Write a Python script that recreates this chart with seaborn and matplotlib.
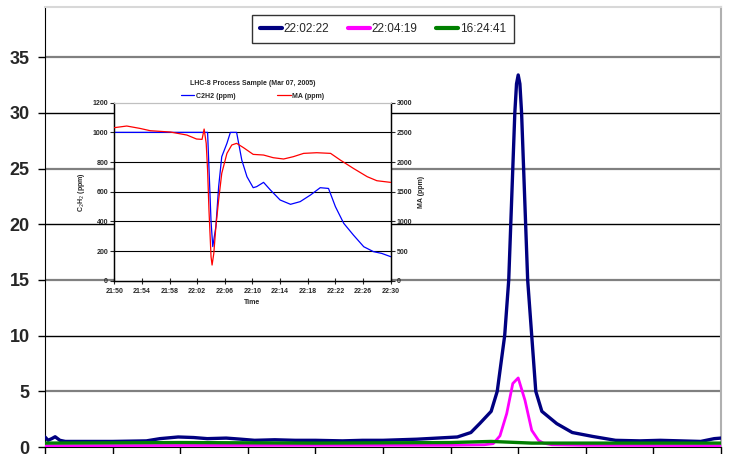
import matplotlib
matplotlib.use("Agg")
import matplotlib.pyplot as plt
import seaborn as sns

# main chart: three traces on an index axis 0..100 (ten ticks, no labels)
navy_x = [0, 0.45, 1.0, 1.5, 2.2, 3, 10, 15, 17, 19.7, 22, 24, 26.8, 29, 31, 34, 37, 40, 44,
          47, 50, 55, 58, 61, 63, 64.3, 66, 66.9, 68.0, 68.6, 68.9, 69.2, 69.5, 69.75, 70,
          70.25, 70.5, 70.8, 71.1, 71.4, 72, 72.6, 73.5, 75.7, 78, 81, 84.4, 88, 91, 94,
          97, 99, 100]
navy_y = [0.9, 0.6, 0.75, 0.92, 0.6, 0.5, 0.5, 0.55, 0.75, 0.9, 0.85, 0.75, 0.8, 0.7, 0.6,
          0.65, 0.6, 0.6, 0.55, 0.6, 0.6, 0.7, 0.8, 0.9, 1.3, 2.1, 3.2, 5.0, 10, 15, 20,
          25, 30, 32.6, 33.4, 32.6, 30, 25, 20, 15, 10, 5.0, 3.2, 2.1, 1.3, 0.95, 0.6, 0.55,
          0.6, 0.55, 0.5, 0.75, 0.8]

mag_x = [0, 40, 60, 65, 66.3, 67.3, 68.3, 69.2, 70, 71, 72, 73, 73.7, 75, 80, 100]
mag_y = [0.12, 0.15, 0.15, 0.2, 0.3, 1.0, 3.0, 5.7, 6.2, 4.2, 1.5, 0.6, 0.35, 0.2, 0.15, 0.12]

grn_x = [0, 20, 40, 60, 66, 68, 72, 100]
grn_y = [0.35, 0.4, 0.35, 0.4, 0.5, 0.45, 0.35, 0.35]

series_names = ["22:02:22", "22:04:19", "16:24:41"]
series_colors = ["#000080", "#FF00FF", "#008000"]

# inset: LHC-8 process sample, minutes after 21:50
c2h2_t = [0, 13.5, 13.75, 14.0, 14.25, 14.7, 15.1, 15.55, 16.3, 16.8, 17.7, 18.45, 19.2,
          20.1, 20.6, 21.6, 22.6, 24.0, 25.5, 26.9, 28.4, 29.8, 31.0, 32.0, 33.2, 34.6,
          36.1, 37.5, 38.7, 40]
c2h2 = [1000, 1000, 700, 400, 230, 364, 634, 836, 926, 1000, 1000, 813, 701, 627, 634,
        663, 611, 544, 515, 533, 578, 627, 622, 499, 387, 308, 229, 196, 184, 162]

ma_t = [0, 1.8, 3.7, 5.2, 8.1, 10.5, 11.9, 12.7, 13.0, 13.3, 13.5, 13.7, 14.0, 14.15,
        14.4, 14.7, 15.1, 15.55, 16.3, 17.0, 17.7, 18.7, 20.1, 21.6, 23.0, 24.5, 25.9,
        27.4, 29.3, 31.3, 32.7, 34.6, 36.6, 38.0, 40]
ma = [2579, 2607, 2567, 2528, 2506, 2455, 2388, 2382, 2556, 2315, 1865, 1191, 404, 264,
      461, 910, 1360, 1809, 2146, 2287, 2315, 2242, 2129, 2118, 2073, 2051, 2090, 2146,
      2157, 2146, 2034, 1893, 1753, 1685, 1657]

inset_ticks = [0, 4, 8, 12, 16, 20, 24, 28, 32, 36, 40]
inset_labels = ["21:50", "21:54", "21:58", "22:02", "22:06", "22:10", "22:14", "22:18",
                "22:22", "22:26", "22:30"]

sns.set_style("white")
plt.rcParams["font.family"] = ["Liberation Sans", "DejaVu Sans"]

fig = plt.figure(figsize=(7.45, 4.54), dpi=100)
ax = fig.add_axes([45 / 745, 7 / 454, 676 / 745, 440 / 454])

for xs, ys, name, col, lw in zip([navy_x, mag_x, grn_x], [navy_y, mag_y, grn_y],
                                 series_names, series_colors, [2.4, 2.0, 2.4]):
    sns.lineplot(x=xs, y=ys, ax=ax, color=col, linewidth=lw, label=name, zorder=3)

ax.set_xlim(0, 100)
ax.set_ylim(0, 39.5)
ax.set_xticks(range(0, 101, 10))
ax.set_xticklabels([])
ax.set_yticks(range(0, 36, 5))
ax.tick_params(axis="both", direction="out", length=5, width=1, color="black",
               left=True, bottom=True)
ax.tick_params(axis="y", labelsize=13, pad=6)
for lab in ax.get_yticklabels():
    lab.set_fontweight("bold")

# horizontal gridlines, alternating grey/black like the source rendering
for i, v in enumerate(range(5, 36, 5)):
    if i % 2 == 0:
        ax.axhline(v, color="#808080", linewidth=1.6, zorder=1)
    else:
        ax.axhline(v, color="black", linewidth=1.0, zorder=1)

ax.spines["left"].set_color("black")
ax.spines["bottom"].set_color("black")
ax.spines["right"].set_color("#b0b0b0")
ax.spines["right"].set_linewidth(1.5)
ax.spines["top"].set_color("#d8d8d8")
ax.spines["top"].set_linewidth(1.5)
ax.set_xlabel("")
ax.set_ylabel("")

handles, labels = ax.get_legend_handles_labels()
ax.get_legend().remove()
leg = fig.legend(handles, labels, loc="center", bbox_to_anchor=(383 / 745, 1 - 29 / 454),
                 ncol=3, fontsize=8.5, frameon=True, fancybox=False, handlelength=1.85,
                 handletextpad=0.15, columnspacing=1.6, borderpad=0.7)
leg.get_frame().set_edgecolor("black")
leg.get_frame().set_linewidth(1.0)
for line in leg.get_lines():
    line.set_linewidth(3)

# inset chart
axi = fig.add_axes([114.3 / 745, 1 - 280.7 / 454, 276.4 / 745, 178 / 454], zorder=2)
axi.set_facecolor("white")
sns.lineplot(x=c2h2_t, y=c2h2, ax=axi, color="#0000FF", linewidth=0.9,
             label="C2H2 (ppm)", zorder=3)
axr = axi.twinx()
sns.lineplot(x=ma_t, y=ma, ax=axr, color="#FF0000", linewidth=0.9,
             label="MA (ppm)", zorder=3)

axi.set_xlim(0, 40)
axi.set_ylim(0, 1200)
axr.set_ylim(0, 3000)
axi.set_yticks(range(0, 1201, 200))
axr.set_yticks(range(0, 3001, 500))
axi.set_xticks(inset_ticks)
axi.set_xticklabels(inset_labels)
for v in range(200, 1001, 200):
    axi.axhline(v, color="black", linewidth=0.8, zorder=1)

small = dict(fontsize=5, fontweight="bold")
axi.tick_params(axis="y", direction="out", length=3, width=0.8, labelsize=5, pad=1.5, left=True)
axi.tick_params(axis="x", direction="inout", length=4, width=0.8, labelsize=5, pad=3, bottom=True)
axr.tick_params(axis="y", direction="out", length=3, width=0.8, labelsize=5, pad=1.5, right=True)
for lab in axi.get_yticklabels() + axi.get_xticklabels() + axr.get_yticklabels():
    lab.set_fontweight("bold")

for a in (axi, axr):
    for s in ("left", "right", "bottom"):
        a.spines[s].set_color("black")
        a.spines[s].set_linewidth(0.9)
    a.spines["top"].set_color("#c0c0c0")
    a.spines["top"].set_linewidth(0.8)

axi.set_xlabel("Time", labelpad=3, **small)
axi.set_ylabel("C$_2$H$_2$ (ppm)", labelpad=4, **small)
axr.set_ylabel("MA (ppm)", labelpad=4, **small)
axi.set_title("LHC-8 Process Sample (Mar 07, 2005)", pad=13, **small)

h1, l1 = axi.get_legend_handles_labels()
h2, l2 = axr.get_legend_handles_labels()
axi.get_legend().remove()
axr.get_legend().remove()
axi.legend(h1 + h2, l1 + l2, loc="lower center", bbox_to_anchor=(0.5, 0.99), ncol=2,
           frameon=False, prop={"size": 5, "weight": "bold"}, handlelength=2.0,
           handletextpad=0.2, columnspacing=6, borderpad=0.2)

fig.savefig("out.png", dpi=100)
